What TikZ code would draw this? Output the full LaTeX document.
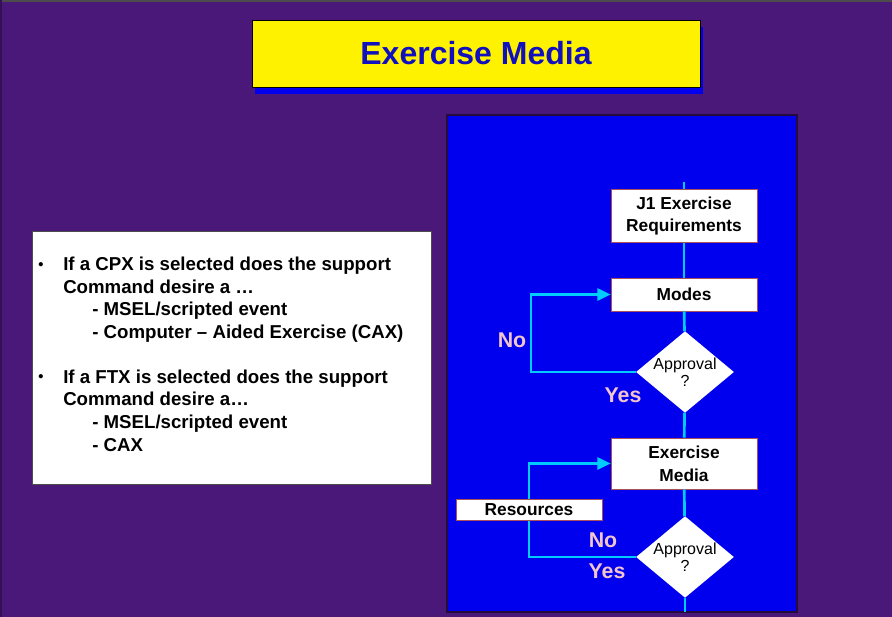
\documentclass[tikz,border=0pt]{standalone}
\usepackage{fontspec}
\setmainfont{Liberation Sans}
\usetikzlibrary{arrows.meta}
\usetikzlibrary{shapes.geometric}
\usetikzlibrary{shadows}
\definecolor{mpurple}{RGB}{74,24,120}
\definecolor{mpanel}{RGB}{0,0,238}
\definecolor{mline}{RGB}{0,204,255}
\definecolor{mpink}{RGB}{242,196,204}
\definecolor{medge}{RGB}{170,80,90}
\definecolor{mtitle}{RGB}{16,16,190}
\tikzset{title/.style = {rectangle, draw=black, fill=yellow, inner sep=0,
                         minimum width=448*0.75pt, minimum height=67*0.75pt,
                         text=mtitle, font=\fontsize{24}{28}\selectfont\bfseries,
                         drop shadow={shadow xshift=2.25pt, shadow yshift=-5.25pt,
                                      fill=mpanel, opacity=1}}}
\tikzset{box/.style = {rectangle, draw=medge, fill=white, inner sep=0,
                       minimum width=146*0.75pt, align=center,
                       font=\fontsize{13}{15}\selectfont\bfseries}}
\tikzset{decision/.style = {diamond, fill=white, inner sep=0, aspect=1.2,
                            minimum width=96*0.75pt, minimum height=80*0.75pt,
                            align=center, font=\fontsize{12}{13}\selectfont}}
\tikzset{link/.style = {mline, line width=2pt}}
\tikzset{tip/.style = {-{Triangle[length=10pt, width=9pt]}}}
\tikzset{answer/.style = {text=mpink, font=\fontsize{16}{18}\selectfont\bfseries}}
\newcommand{\dotmark}{\makebox[18.75pt][l]{\raisebox{1.2pt}{\fontsize{11}{11}\selectfont\textbullet}}}
\newcommand{\dashline}{\hspace*{40.5pt}- }

\begin{document}
\begin{tikzpicture}[x=0.75pt, y=-0.75pt]
    \useasboundingbox (0, 0) rectangle (892, 617);
    \fill [mpurple] (0, 0) rectangle (892, 617);
    \draw [black!70, line width=1.5pt] (0, 1) -- (892, 1);
    \draw [mpurple!70!black, line width=1.5pt] (1, 0) -- (1, 617);

    \node [title] (title) at (476, 53.5) {Exercise Media};

    % bullet list on the left
    \node [draw=black!70, fill=white, minimum width=399*0.75pt,
           minimum height=253*0.75pt, inner sep=0] (notes) at (231.5, 357.5) {};
    \node [anchor=north west, inner sep=0, align=left,
           font=\fontsize{14}{16.9}\selectfont\bfseries] (points) at (38, 257) {%
      \dotmark If a CPX is selected does the support\\
      \hspace*{18.75pt}Command desire a \dots\\
      \dashline MSEL/scripted event\\
      \dashline Computer -- Aided Exercise (CAX)\\[16.9pt]
      \dotmark If a FTX is selected does the support\\
      \hspace*{18.75pt}Command desire a\dots\\
      \dashline MSEL/scripted event\\
      \dashline CAX};

    % flow chart panel
    \draw [draw=mpurple!50!black, line width=1.2pt, fill=mpanel] (447, 115) rectangle (797, 612);

    \coordinate (start) at (684, 182);
    \coordinate (finish) at (685, 612);
    \coordinate (back1) at (531, 372);
    \coordinate (back2) at (529, 557);

    \node [box, minimum height=53*0.75pt, font=\fontsize{13}{17}\selectfont\bfseries] (req) at (684, 216) {J1 Exercise\\Requirements};
    \node [box, minimum height=33*0.75pt] (modes) at (684, 294.5) {Modes};
    \node [decision] (ok1) at (685, 372) {Approval\\?};
    \node [box, minimum height=51*0.75pt, font=\fontsize{13}{17}\selectfont\bfseries] (media) at (684, 463.5) {Exercise\\Media};
    \node [decision] (ok2) at (685, 557) {Approval\\?};

    \draw [link] (start) -- (req);
    \draw [link] (req) -- (modes);
    \draw [link] (modes) -- (ok1);
    \draw [link] (ok1) -- (media);
    \draw [link] (media) -- (ok2);
    \draw [link] (ok2) -- (finish);
    \draw [link, tip] (ok1.west) -- (back1) |- (modes.west);
    \draw [link, tip] (ok2.west) -- (back2) |- (media.west);

    \node [box, minimum height=21*0.75pt] (res) at (529, 509.5) {Resources};

    \node [answer] (no1) at (512, 340) {No};
    \node [answer] (yes1) at (623, 395) {Yes};
    \node [answer] (no2) at (603, 540) {No};
    \node [answer] (yes2) at (607, 571) {Yes};
\end{tikzpicture}
\end{document}
